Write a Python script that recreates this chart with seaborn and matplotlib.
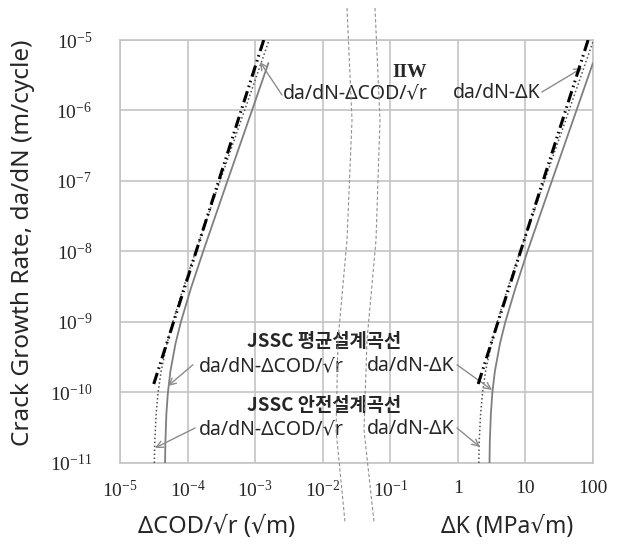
import matplotlib
matplotlib.use("Agg")
import matplotlib.pyplot as plt
from matplotlib.lines import Line2D
from matplotlib.ticker import FixedLocator, LogLocator, NullFormatter
import seaborn as sns

# IIW design curve
iiw_rate = [1.32e-10, 1.0e-5]
iiw_dk = [2.0, 84.6]
iiw_dcod = [3.16e-5, 1.34e-3]

# JSSC mean design curve
mean_rate = [1e-11, 2e-11, 5e-11, 1e-10, 2e-10, 5e-10, 1e-9, 3e-9, 1e-8, 1e-7, 1e-6, 4.7e-6]
mean_dk = [2.94, 2.97, 3.08, 3.24, 3.53, 4.21, 5.04, 7.09, 10.7, 24.6, 56.8, 99.6]
mean_dcod = [4.64e-5, 4.70e-5, 4.86e-5, 5.12e-5, 5.57e-5, 6.65e-5, 7.96e-5, 1.12e-4,
             1.70e-4, 3.89e-4, 8.97e-4, 1.57e-3]

# JSSC safe design curve
safe_rate = [1e-11, 2e-11, 5e-11, 1e-10, 2e-10, 5e-10, 1e-9, 3e-9, 1e-8, 1e-7, 1e-6, 1e-5]
safe_dk = [2.04, 2.07, 2.17, 2.32, 2.57, 3.15, 3.83, 5.46, 8.33, 19.1, 44.1, 101.9]
safe_dcod = [3.22e-5, 3.27e-5, 3.43e-5, 3.66e-5, 4.06e-5, 4.97e-5, 6.05e-5, 8.63e-5,
             1.32e-4, 3.02e-4, 6.97e-4, 1.61e-3]

x_ticks = [1e-5, 1e-4, 1e-3, 1e-2, 1e-1, 1, 10, 100]
x_labels = [r"$\mathregular{10^{-5}}$", r"$\mathregular{10^{-4}}$", r"$\mathregular{10^{-3}}$",
            r"$\mathregular{10^{-2}}$", r"$\mathregular{10^{-1}}$", "1", "10", "100"]
y_ticks = [1e-11, 1e-10, 1e-9, 1e-8, 1e-7, 1e-6, 1e-5]
y_labels = [r"$\mathregular{10^{-11}}$", r"$\mathregular{10^{-10}}$", r"$\mathregular{10^{-9}}$",
            r"$\mathregular{10^{-8}}$", r"$\mathregular{10^{-7}}$", r"$\mathregular{10^{-6}}$",
            r"$\mathregular{10^{-5}}$"]

sns.set_style("white")
plt.rcParams["font.family"] = ["Noto Sans CJK KR", "DejaVu Sans"]
plt.rcParams["mathtext.fontset"] = "custom"
plt.rcParams["mathtext.rm"] = "Liberation Serif"

KR = ["Noto Sans CJK KR", "DejaVu Sans"]
LAT = ["Noto Sans", "DejaVu Sans"]
GRID = "#c4c4c4"
ARROW = "#8c8c8c"

fig = plt.figure(figsize=(6.22, 5.45), dpi=100)
ax = fig.add_axes([0.1929, 0.1505, 0.7605, 0.7761])

iiw_ls = (0, (3.8, 1.4, 0.5, 1.2, 0.5, 1.4))
safe_ls = (0, (1.0, 1.6))

for xs in (iiw_dcod, iiw_dk):
    sns.lineplot(x=xs, y=iiw_rate, ax=ax, color="black", lw=2.2, linestyle=iiw_ls,
                 estimator=None, sort=False, zorder=4)
for xs in (mean_dcod, mean_dk):
    sns.lineplot(x=xs, y=mean_rate, ax=ax, color="#7f7f7f", lw=1.3,
                 estimator=None, sort=False, zorder=3)
for xs in (safe_dcod, safe_dk):
    sns.lineplot(x=xs, y=safe_rate, ax=ax, color="#505050", lw=1.1, linestyle=safe_ls,
                 estimator=None, sort=False, zorder=3)

ax.set_xscale("log")
ax.set_yscale("log")
ax.set_xlim(1e-5, 100)
ax.set_ylim(1e-11, 1e-5)

ax.xaxis.set_major_locator(FixedLocator(x_ticks))
ax.set_xticklabels(x_labels)
ax.yaxis.set_major_locator(FixedLocator(y_ticks))
ax.set_yticklabels(y_labels)
ax.xaxis.set_minor_locator(LogLocator(base=10, subs=range(2, 10), numticks=20))
ax.yaxis.set_minor_locator(LogLocator(base=10, subs=range(2, 10), numticks=20))
ax.xaxis.set_minor_formatter(NullFormatter())
ax.yaxis.set_minor_formatter(NullFormatter())

ax.grid(True, which="major", color=GRID, lw=1.2)
for sp in ax.spines.values():
    sp.set_color(GRID)
    sp.set_linewidth(1.2)
ax.tick_params(which="both", direction="inout", color="#a8a8a8", width=0.8)
ax.tick_params(which="major", length=6)
ax.tick_params(which="minor", length=4)
ax.tick_params(axis="y", which="major", pad=17)
ax.tick_params(axis="x", which="major", pad=9)
for lab in ax.get_xticklabels() + ax.get_yticklabels():
    lab.set_fontfamily("Liberation Serif")
    lab.set_fontsize(14)
ax.set_xlabel("")
ax.set_ylabel("")

# annotations
ax.text(0.613, 0.924, "IIW", transform=ax.transAxes, ha="center", va="center",
        fontsize=14, fontweight="bold", family="Liberation Serif")
ax.text(0.345, 0.875, "da/dN-ΔCOD/√r", transform=ax.transAxes, ha="left", va="center",
        fontsize=14, family=LAT)
ax.text(0.704, 0.875, "da/dN-ΔK", transform=ax.transAxes, ha="left", va="center",
        fontsize=14, family=LAT)

ax.text(0.2685, 0.288, "JSSC 평균설계곡선", transform=ax.transAxes, ha="left", va="center",
        fontsize=13.5, fontweight="bold", family=KR)
ax.text(0.167, 0.229, "da/dN-ΔCOD/√r", transform=ax.transAxes, ha="left", va="center",
        fontsize=14, family=LAT)
ax.text(0.522, 0.229, "da/dN-ΔK", transform=ax.transAxes, ha="left", va="center",
        fontsize=14, family=LAT)

ax.text(0.2685, 0.135, "JSSC 안전설계곡선", transform=ax.transAxes, ha="left", va="center",
        fontsize=13.5, fontweight="bold", family=KR)
ax.text(0.167, 0.080, "da/dN-ΔCOD/√r", transform=ax.transAxes, ha="left", va="center",
        fontsize=14, family=LAT)
ax.text(0.522, 0.080, "da/dN-ΔK", transform=ax.transAxes, ha="left", va="center",
        fontsize=14, family=LAT)

arrows = [((0.3425, 0.870), (0.296, 0.948)),
          ((0.892, 0.877), (0.977, 0.934)),
          ((0.154, 0.232), (0.1015, 0.182)),
          ((0.1586, 0.0827), (0.074, 0.0355)),
          ((0.7125, 0.232), (0.7865, 0.1726)),
          ((0.7125, 0.0827), (0.761, 0.0378))]
for start, end in arrows:
    ax.annotate("", xy=end, xytext=start, xycoords="axes fraction", textcoords="axes fraction",
                arrowprops=dict(arrowstyle="->", color=ARROW, lw=1.0, shrinkA=0, shrinkB=0,
                                mutation_scale=12))

# axis break marks (decoration, figure pixels)
W, H = 622, 545
left_arc = [(347, 8), (352, 120), (347, 240), (338, 340), (336, 430), (345, 522)]
right_arc = [(375, 8), (380, 120), (376, 240), (367, 340), (364, 430), (374, 522)]
for arc in (left_arc, right_arc):
    fig.add_artist(Line2D([p[0] / W for p in arc], [1 - p[1] / H for p in arc],
                          transform=fig.transFigure, color="#909090", lw=0.8,
                          linestyle=(0, (3, 2)), zorder=5))

fig.text(23 / W, 1 - 243 / H, "Crack Growth Rate, da/dN (m/cycle)", rotation=90,
         ha="center", va="center", fontsize=17.5, family=LAT)
fig.text(217 / W, 1 - 527 / H, "ΔCOD/√r (√m)", ha="center", va="center", fontsize=17, family=LAT)
fig.text(507 / W, 1 - 527 / H, "ΔK (MPa√m)", ha="center", va="center", fontsize=16.5, family=LAT)

fig.savefig("out.png", dpi=100)
